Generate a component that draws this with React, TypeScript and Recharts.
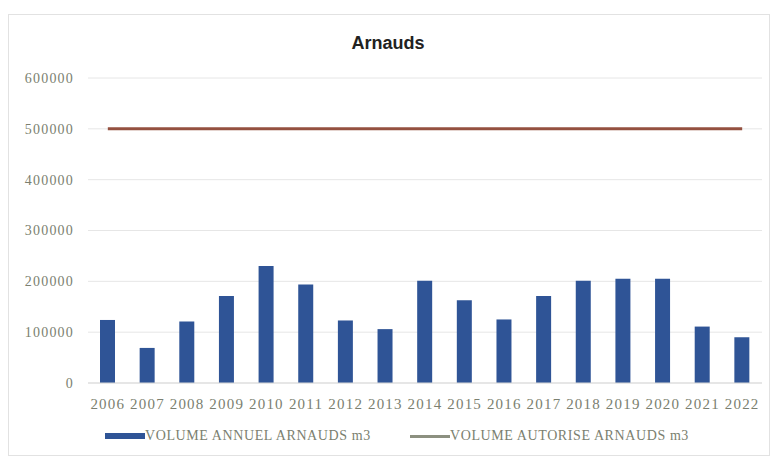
import { ComposedChart, Bar, Line, XAxis, YAxis, CartesianGrid } from "recharts";

const years = [
  "2006", "2007", "2008", "2009", "2010", "2011", "2012", "2013", "2014",
  "2015", "2016", "2017", "2018", "2019", "2020", "2021", "2022",
];
// VOLUME ANNUEL ARNAUDS m3
const annualVolume = [
  124000, 69000, 121000, 171000, 230000, 194000, 123000, 106000, 201000,
  163000, 125000, 171000, 201000, 205000, 205000, 111000, 90000,
];
// VOLUME AUTORISE ARNAUDS m3
const authorizedVolume = [
  500000, 500000, 500000, 500000, 500000, 500000, 500000, 500000, 500000,
  500000, 500000, 500000, 500000, 500000, 500000, 500000, 500000,
];
const yTicks = [0, 100000, 200000, 300000, 400000, 500000, 600000];

const data = years.map((year, i) => ({
  year,
  annual: annualVolume[i],
  authorized: authorizedVolume[i],
}));

const textColor = "#7b7f70";
const serif = "'Liberation Serif', 'DejaVu Serif', serif";

export default function App() {
  return (
    <div style={{ position: "absolute", left: 0, top: 0, width: 776, height: 459, background: "#fff" }}>
      <div
        style={{
          position: "absolute",
          left: 8,
          top: 14,
          width: 760,
          height: 440,
          border: "1px solid #e2e2e2",
        }}
      />
      <div
        style={{
          position: "absolute",
          left: 0,
          width: 776,
          top: 33,
          textAlign: "center",
          fontFamily: "'Liberation Sans', Arial, sans-serif",
          fontWeight: "bold",
          fontSize: 18,
          color: "#222",
        }}
      >
        Arnauds
      </div>
      <div style={{ position: "absolute", left: 0, top: 0 }}>
        <ComposedChart
          width={776}
          height={459}
          data={data}
          margin={{ top: 78, right: 14, bottom: 46, left: 0 }}
          barCategoryGap={0}
        >
          <CartesianGrid vertical={false} stroke="#e6e6e6" />
          <XAxis
            dataKey="year"
            axisLine={{ stroke: "#d9d9d9" }}
            tickLine={false}
            tickMargin={9}
            interval={0}
            tick={{ fill: textColor, fontSize: 15, fontFamily: serif, letterSpacing: 1.2 }}
          />
          <YAxis
            width={88}
            domain={[0, 600000]}
            ticks={yTicks}
            axisLine={false}
            tickLine={false}
            tickMargin={8}
            tick={{ fill: textColor, fontSize: 14, fontFamily: serif, letterSpacing: 1.2 }}
          />
          <Bar dataKey="annual" fill="#2f5496" barSize={15} isAnimationActive={false} />
          <Line
            dataKey="authorized"
            stroke="#94503f"
            strokeWidth={3}
            dot={false}
            isAnimationActive={false}
          />
        </ComposedChart>
      </div>
      <div
        style={{
          position: "absolute",
          top: 428,
          left: 105,
          display: "flex",
          alignItems: "center",
          fontFamily: serif,
          fontSize: 14,
          letterSpacing: 0.6,
          color: textColor,
        }}
      >
        <span style={{ display: "inline-block", width: 40, height: 6, background: "#2f5496" }} />
        <span>VOLUME ANNUEL ARNAUDS m3</span>
      </div>
      <div
        style={{
          position: "absolute",
          top: 428,
          left: 410,
          display: "flex",
          alignItems: "center",
          fontFamily: serif,
          fontSize: 14,
          letterSpacing: 0.6,
          color: textColor,
        }}
      >
        <span style={{ display: "inline-block", width: 40, height: 3, background: "#8c9080" }} />
        <span>VOLUME AUTORISE ARNAUDS m3</span>
      </div>
    </div>
  );
}
